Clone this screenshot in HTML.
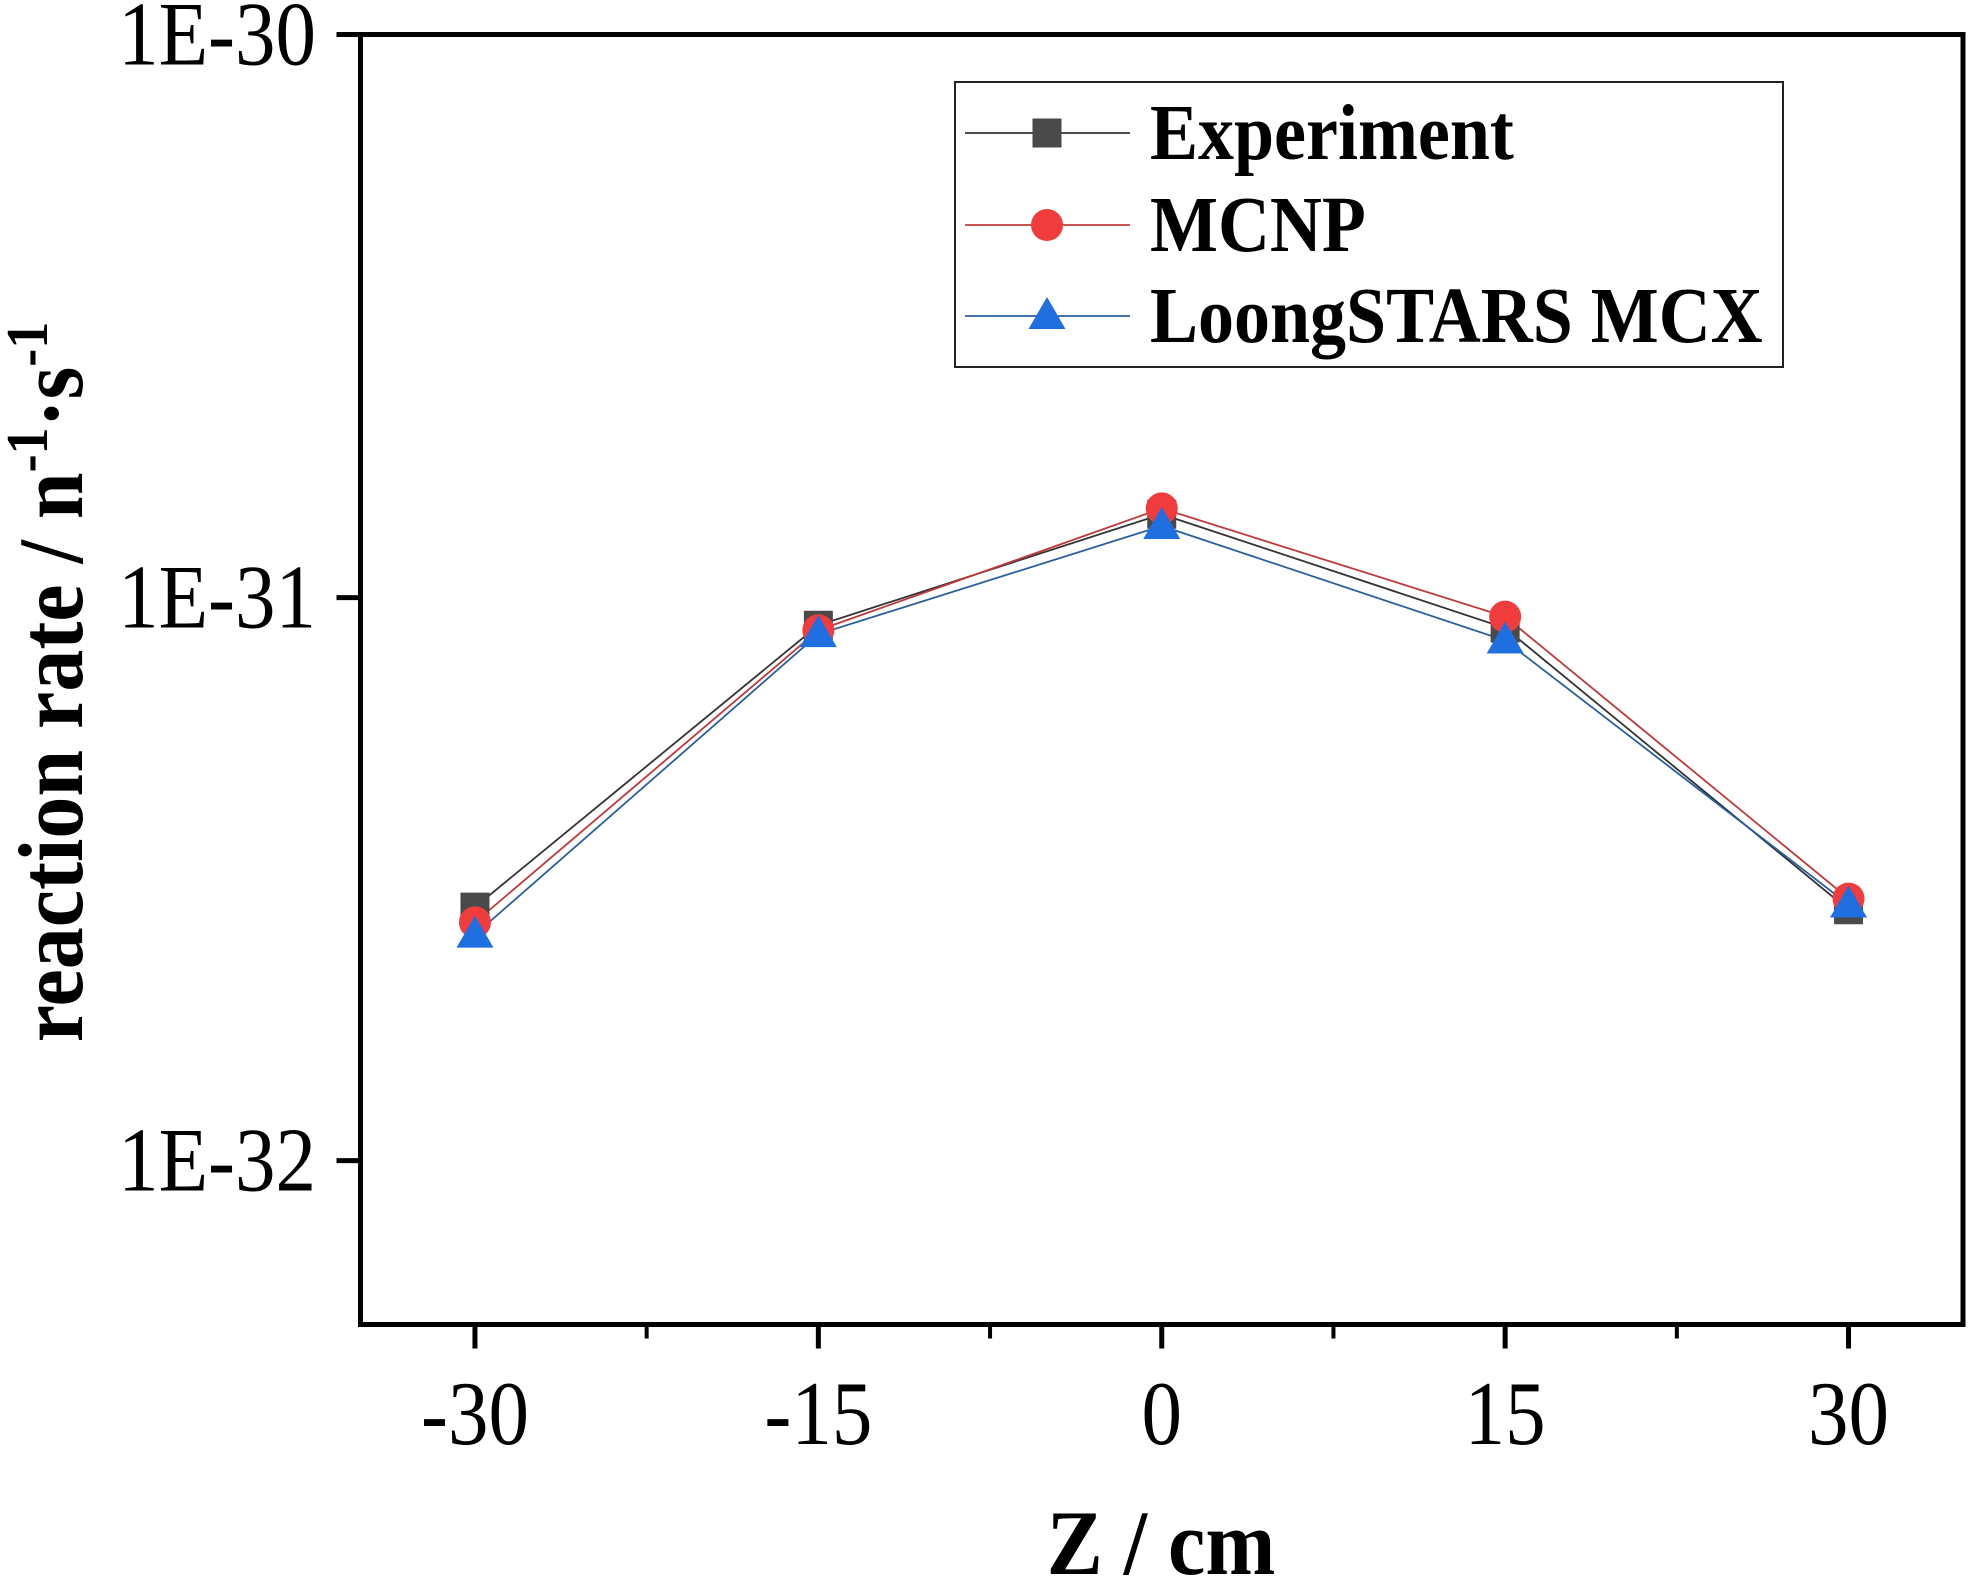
<!DOCTYPE html>
<html><head><meta charset="utf-8"><style>
html,body{margin:0;padding:0;background:#fff;}
svg{display:block;font-family:"Liberation Serif",serif;}
</style></head><body>
<svg id="chart" width="1969" height="1579" viewBox="0 0 1969 1579" xmlns="http://www.w3.org/2000/svg">
<g id="marks"></g>
</svg>
<script>
const categories = [-30, -15, 0, 15, 30];
const experiment = [2.82e-32, 8.93e-32, 1.406e-31, 8.83e-32, 2.79e-32];
const mcnp = [2.65e-32, 8.75e-32, 1.44e-31, 9.25e-32, 2.92e-32];
const loongstars = [2.52e-32, 8.61e-32, 1.34e-31, 8.39e-32, 2.85e-32];
const xTickLabels = ["-30", "-15", "0", "15", "30"];
const xMinorTicks = [-22.5, -7.5, 7.5, 22.5];
const yTickValues = [1e-30, 1e-31, 1e-32];
const yTickLabels = ["1E-30", "1E-31", "1E-32"];

const L = 360.5, R = 1963, T = 34.5, B = 1324.5;
const xMin = -35, xMax = 35, yTopLog = -30, yBotLog = -32.291;
const xs = v => L + (v - xMin) / (xMax - xMin) * (R - L);
const ys = v => T + (yTopLog - Math.log10(v)) / (yTopLog - yBotLog) * (B - T);

const svg = document.getElementById('chart');
const NS = 'http://www.w3.org/2000/svg';
function mk(tag, attrs, parent) {
  const e = document.createElementNS(NS, tag);
  for (const k in attrs) e.setAttribute(k, attrs[k]);
  (parent || svg).appendChild(e);
  return e;
}

const frame = mk('rect', {x: L, y: T, width: R - L, height: B - T, fill: 'none', stroke: '#000', 'stroke-width': 5});



categories.forEach((c, i) => {
  const t = mk('line', {x1: xs(c), x2: xs(c), y1: B, y2: B + 24, stroke: '#000', 'stroke-width': 5});
  
  
  const lb = mk('text', {x: 0, y: 0, 'text-anchor': 'middle', 'font-size': 81, transform: `translate(${xs(c)},1444) scale(1,1.12)`});
  lb.textContent = xTickLabels[i];
  
  
});
xMinorTicks.forEach(c => {
  const t = mk('line', {x1: xs(c), x2: xs(c), y1: B, y2: B + 14, stroke: '#000', 'stroke-width': 4});
  
  
});
yTickValues.forEach((v, i) => {
  const y = ys(v);
  const t = mk('line', {x1: L - 24, x2: L, y1: y, y2: y, stroke: '#000', 'stroke-width': 5});
  
  
  const lb = mk('text', {x: 0, y: 0, 'text-anchor': 'end', 'font-size': 81, transform: `translate(316,${y + 30}) scale(1,1.12)`});
  lb.textContent = yTickLabels[i];
  
  
});

const xt = mk('text', {x: 0, y: 0, 'text-anchor': 'middle', 'font-size': 84, 'font-weight': 'bold', transform: 'translate(1161,1574) scale(1,1.1)'});
xt.textContent = 'Z / cm';



const yt = mk('text', {x: 0, y: 0, 'text-anchor': 'middle', 'font-size': 84, 'font-weight': 'bold', transform: 'translate(82,682) rotate(-90) scale(1,1.1)'});


yt.innerHTML = 'reaction rate / n<tspan dy="-32" font-size="54">-1</tspan><tspan dy="32">·s</tspan><tspan dy="-32" font-size="54">-1</tspan>';

const series = [
  {name: 'experiment', data: experiment, line: '#333', fill: '#4a4a4a', shape: 'square'},
  {name: 'mcnp', data: mcnp, line: '#c0393b', fill: '#f03c3c', shape: 'circle'},
  {name: 'loongstars-mcx', data: loongstars, line: '#2a5f9e', fill: '#1f6fe0', shape: 'triangle'}
];
function marker(shape, x, y, fill, parent) {
  let m;
  if (shape === 'square') m = mk('rect', {x: x - 14.5, y: y - 14.5, width: 29, height: 29, fill: fill}, parent);
  else if (shape === 'circle') m = mk('circle', {cx: x, cy: y, r: 16, fill: fill}, parent);
  else m = mk('polygon', {points: `${x},${y - 19} ${x - 18.5},${y + 13} ${x + 18.5},${y + 13}`, fill: fill}, parent);
  return m;
}
const marks = document.getElementById('marks');
series.forEach(s => {
  const pts = categories.map((c, i) => xs(c) + ',' + ys(s.data[i])).join(' ');
  const pl = mk('polyline', {points: pts, fill: 'none', stroke: s.line, 'stroke-width': 1.8}, marks);
  
  
});
series.forEach(s => {
  categories.forEach((c, i) => {
    const m = marker(s.shape, xs(c), ys(s.data[i]), s.fill, marks);
    
    
  });
});

const lg = mk('g', {});


const lbox = mk('rect', {x: 955, y: 82, width: 828, height: 285, fill: '#fff', stroke: '#222', 'stroke-width': 2}, lg);


const labels = ['Experiment', 'MCNP', 'LoongSTARS MCX'];
const ly = [133, 225, 316];
series.forEach((s, i) => {
  const g = mk('g', {}, lg);
  
  
  mk('line', {x1: 965, x2: 1130, y1: ly[i], y2: ly[i], stroke: s.line, 'stroke-width': 1.8}, g);
  marker(s.shape, 1047, ly[i], s.fill, g);
  const t = mk('text', {x: 0, y: 0, 'font-size': 72, 'font-weight': 'bold', transform: `translate(1150,${ly[i] + 26}) scale(1,1.1)`}, g);
  t.textContent = labels[i];
});
</script>
</body></html>
